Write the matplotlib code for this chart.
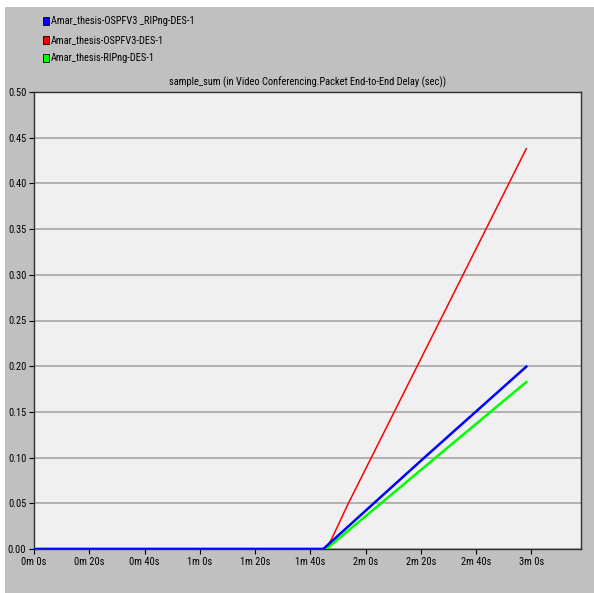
import matplotlib
matplotlib.use("Agg")
import matplotlib.pyplot as plt
from matplotlib.patches import Rectangle
from matplotlib import font_manager
from matplotlib.font_manager import FontProperties

# ---- data ----
series_names = ["Amar_thesis-OSPFV3 _RIPng-DES-1",
                "Amar_thesis-OSPFV3-DES-1",
                "Amar_thesis-RIPng-DES-1"]
series_colors = ["#0000ff", "#ff0000", "#00ff00"]

red_time = [0, 104.8, 106.0, 107.5, 113.8, 155.3, 178.2]
red_vals = [0, 0, 0.003, 0.0095, 0.05, 0.30, 0.438]

blue_time = [0, 104.7, 141.3, 178.2]
blue_vals = [0, 0, 0.10, 0.1995]

green_time = [0, 105.8, 145.4, 178.2]
green_vals = [0, 0, 0.10, 0.1827]

xtick_vals = [0, 20, 40, 60, 80, 100, 120, 140, 160, 180]
xtick_labels = ["0m 0s", "0m 20s", "0m 40s", "1m 0s", "1m 20s", "1m 40s",
                "2m 0s", "2m 20s", "2m 40s", "3m 0s"]
ytick_vals = [0.00, 0.05, 0.10, 0.15, 0.20, 0.25, 0.30, 0.35, 0.40, 0.45, 0.50]

title = "sample_sum (in Video Conferencing.Packet End-to-End Delay (sec))"

# ---- fonts: look for a narrow / condensed face ----
FS = 7.5
entries = font_manager.fontManager.ttflist
prefs = ["Liberation Sans Narrow", "Arial Narrow", "Roboto Condensed",
         "DejaVu Sans Condensed", "Open Sans Condensed", "Noto Sans Condensed"]
chosen = None
for p in prefs:
    for f in entries:
        if f.name == p and f.style == "normal" and str(f.weight) in ("400", "normal", "regular", "book"):
            chosen = f.fname
            break
    if chosen:
        break
if chosen is None:
    for f in entries:
        nm = f.name.lower()
        st = str(f.stretch).lower()
        if (("narrow" in nm or "condensed" in nm or "condensed" in st)
                and f.style == "normal" and "bold" not in f.fname.lower()
                and "light" not in f.fname.lower() and "semi" not in st
                and str(f.weight) in ("400", "normal", "regular", "book")):
            chosen = f.fname
            break
if chosen is None:
    for f in entries:
        fl = f.fname.lower()
        if "condensed" in fl and "bold" not in fl and "oblique" not in fl and "italic" not in fl:
            chosen = f.fname
            break

if chosen is not None:
    fp = FontProperties(fname=chosen, size=FS)
else:
    fp = FontProperties(family=["Liberation Sans", "DejaVu Sans"], size=FS - 1)

W, H = 594, 593
fig = plt.figure(figsize=(W / 100, H / 100), dpi=100, facecolor="white")

# gray panel background
fig.patches.append(Rectangle((5 / W, 0), 1, 1 - 7 / H, transform=fig.transFigure,
                             facecolor="#c0c0c0", edgecolor="none", zorder=-10))

L, R, T, B = 34, 581, 92, 549
ax = fig.add_axes([L / W, 1 - B / H, (R - L) / W, (B - T) / H])
ax.set_facecolor("#f0f0f0")

ax.plot(red_time, red_vals, color=series_colors[1], lw=1.1, zorder=3)
ax.plot(green_time, green_vals, color=series_colors[2], lw=1.8, zorder=4)
ax.plot(blue_time, blue_vals, color=series_colors[0], lw=1.8, zorder=5)

ax.set_xlim(0, 198)
ax.set_ylim(0, 0.5)
ax.set_xticks(xtick_vals)
ax.set_xticklabels(xtick_labels, fontproperties=fp)
ax.set_yticks(ytick_vals)
ax.set_yticklabels([f"{v:.2f}" for v in ytick_vals], fontproperties=fp)
ax.tick_params(direction="out", length=3.5, width=0.8, pad=2, colors="black")
ax.grid(axis="y", color="#a0a0a0", lw=1.1)
ax.set_axisbelow(True)
for s in ax.spines.values():
    s.set_color("#303030")
    s.set_linewidth(1.0)

fig.text((L + R) / 2 / W, 1 - 82 / H, title, ha="center", va="center", fontproperties=fp)

# legend
rows_y = [21, 40, 58]
for name, col, y in zip(series_names, series_colors, rows_y):
    fig.patches.append(Rectangle((43 / W, 1 - (y + 3.5) / H), 6 / W, 7 / H,
                                 transform=fig.transFigure, facecolor=col,
                                 edgecolor="black", lw=0.6, zorder=5))
    fig.text(51 / W, 1 - y / H, name, ha="left", va="center", fontproperties=fp)

fig.savefig("out.png", dpi=100, facecolor=fig.get_facecolor())
